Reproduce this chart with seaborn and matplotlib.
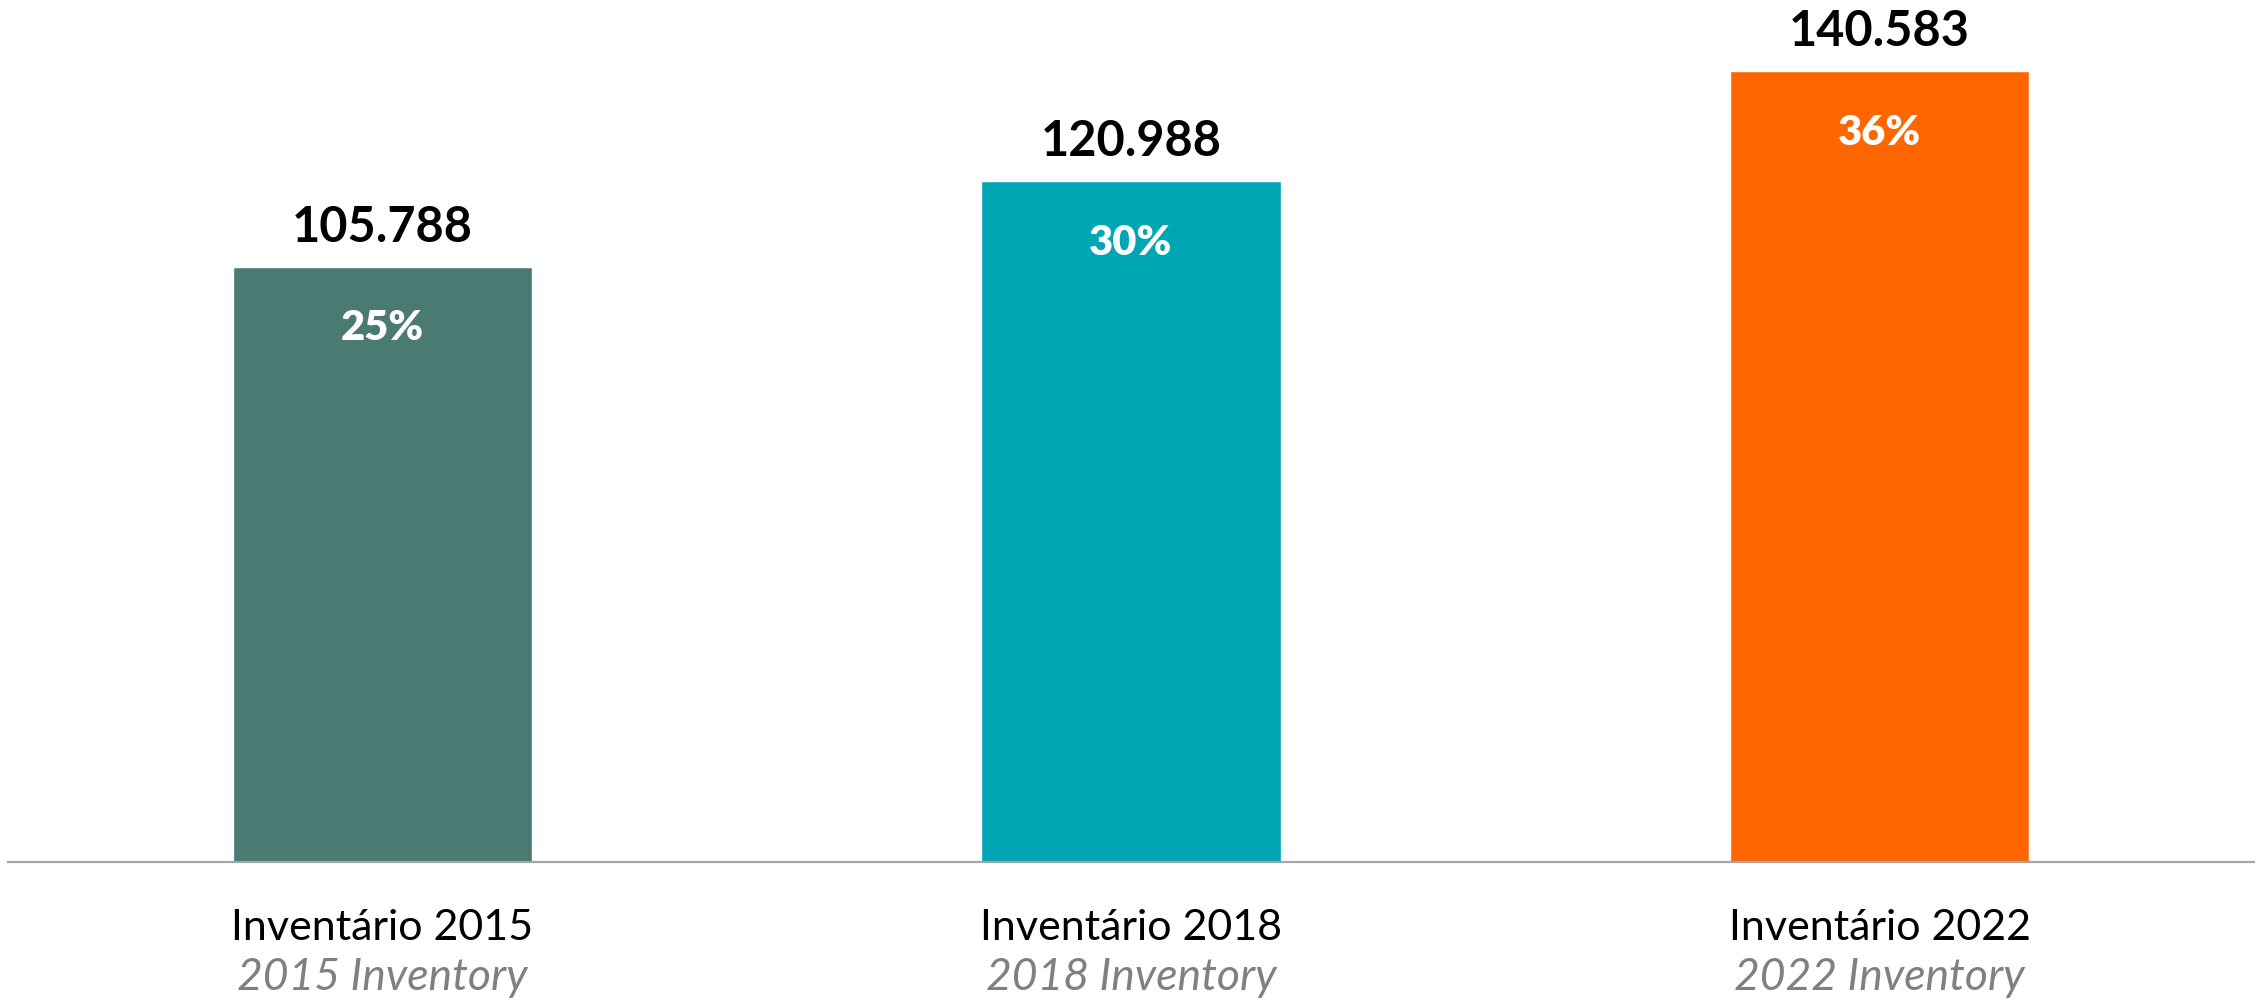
import matplotlib
matplotlib.use("Agg")
import matplotlib.pyplot as plt
import matplotlib.transforms as mtransforms
import seaborn as sns
import pandas as pd

categories = ["Inventário 2015", "Inventário 2018", "Inventário 2022"]
subtitles = ["2015 Inventory", "2018 Inventory", "2022 Inventory"]
values = [105788, 120988, 140583]
value_labels = ["105.788", "120.988", "140.583"]
pct_labels = ["25%", "30%", "36%"]
colors = ["#4A7A71", "#00A6B4", "#FF6600"]

sns.set_theme(style="white")
plt.rcParams["font.family"] = ["Lato", "DejaVu Sans"]

df = pd.DataFrame({"cat": categories, "val": values})

fig = plt.figure(figsize=(22.64, 10.02), dpi=100)
ax = fig.add_axes([8 / 2264, 140 / 1002, (2254 - 8) / 2264, 862 / 1002])
sns.barplot(data=df, x="cat", y="val", hue="cat", palette=colors, width=0.4,
            legend=False, ax=ax, saturation=1)
ax.set_xlim(-0.5, 2.5)
ax.set_ylim(0, 153200)
for s in ["top", "right", "left"]:
    ax.spines[s].set_visible(False)
ax.spines["bottom"].set_color("#A6A6A6")
ax.spines["bottom"].set_linewidth(1.6)
ax.set_xticks([])
ax.set_yticks([])
ax.set_xlabel("")
ax.set_ylabel("")

for i, v in enumerate(values):
    ax.annotate(value_labels[i], (i, v), xytext=(0, 18), textcoords="offset points",
                ha="center", va="baseline", fontsize=35, fontweight="bold", color="black")
    ax.annotate(pct_labels[i], (i, v), xytext=(0, -53), textcoords="offset points",
                ha="center", va="baseline", fontsize=30, fontweight="heavy", color="white")

trans = mtransforms.blended_transform_factory(ax.transData, fig.transFigure)
for i in range(len(categories)):
    ax.text(i, (1002 - 940) / 1002, categories[i], transform=trans, ha="center",
            va="baseline", fontsize=31, color="black")
    ax.text(i, (1002 - 990) / 1002, subtitles[i], transform=trans, ha="center",
            va="baseline", fontsize=32, style="italic", color="#808080")

fig.savefig("out.png", dpi=100)
